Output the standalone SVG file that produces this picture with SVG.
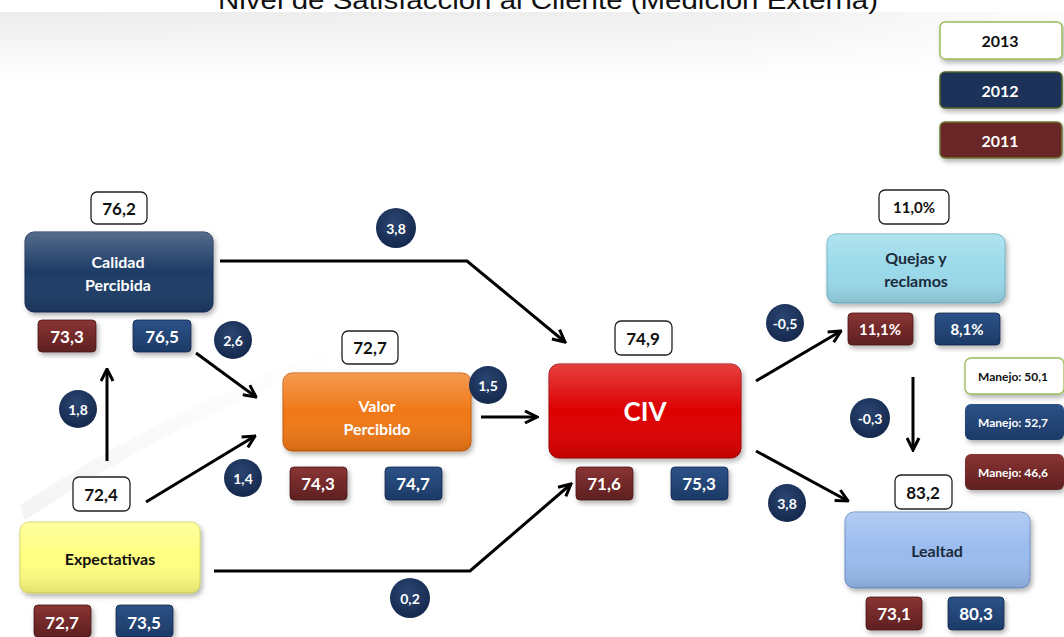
<svg xmlns="http://www.w3.org/2000/svg" width="1064" height="637" viewBox="0 0 1064 637">
<defs>
<style>
.t{font-family:Lato,"Open Sans","Liberation Sans",sans-serif;font-weight:bold;text-anchor:middle;dominant-baseline:central}
.w{fill:#fff}
.k{fill:#111}
.val{fill:#fff;stroke:#222;stroke-width:1.3}
.red{fill:url(#gRed);stroke:#4a1616;stroke-width:0.8}
.navy{fill:url(#gNavy);stroke:#12264a;stroke-width:0.8}
.circ{fill:url(#gCirc)}
.conn{fill:none;stroke:#000;stroke-width:3;marker-end:url(#arr)}
</style>
<linearGradient id="gRed" x1="0" y1="0" x2="0" y2="1"><stop offset="0" stop-color="#8a3434"/><stop offset="1" stop-color="#5e2020"/></linearGradient>
<linearGradient id="gNavy" x1="0" y1="0" x2="0" y2="1"><stop offset="0" stop-color="#2d5288"/><stop offset="1" stop-color="#1c3a66"/></linearGradient>
<radialGradient id="gCirc" cx="0.45" cy="0.35" r="0.7"><stop offset="0" stop-color="#2a4672"/><stop offset="1" stop-color="#14264a"/></radialGradient>
<linearGradient id="gTop" x1="0" y1="0" x2="0" y2="1"><stop offset="0" stop-color="#ececec"/><stop offset="1" stop-color="#ffffff"/></linearGradient>
<linearGradient id="gTopH" x1="0" y1="0" x2="1" y2="0"><stop offset="0" stop-color="#fff" stop-opacity="0"/><stop offset="0.7" stop-color="#fff" stop-opacity="0.2"/><stop offset="1" stop-color="#fff" stop-opacity="0.9"/></linearGradient>
<linearGradient id="gSw" x1="0" y1="1" x2="1" y2="0"><stop offset="0" stop-color="#ececec"/><stop offset="1" stop-color="#f8f8f8" stop-opacity="0.3"/></linearGradient>
<linearGradient id="gSheen" x1="0" y1="0" x2="0" y2="1"><stop offset="0" stop-color="#fff" stop-opacity="0.25"/><stop offset="0.5" stop-color="#fff" stop-opacity="0"/><stop offset="1" stop-color="#000" stop-opacity="0.12"/></linearGradient>
<filter id="sh" x="-10%" y="-10%" width="125%" height="130%"><feDropShadow dx="2" dy="3" stdDeviation="2.5" flood-color="#000" flood-opacity="0.3"/></filter>
<marker id="arr" viewBox="0 0 10 10" refX="9" refY="5" markerWidth="5" markerHeight="5" orient="auto" markerUnits="strokeWidth"><path d="M1,1 L9,5 L1,9" fill="none" stroke="#000" stroke-width="2"/></marker>
</defs>
<rect width="1064" height="637" fill="#fff"/>
<rect x="0" y="12" width="1064" height="66" fill="url(#gTop)"/>
<rect x="0" y="12" width="1064" height="66" fill="url(#gTopH)"/>
<path d="M20,505 C120,440 230,385 330,350 L322,366 C230,400 130,452 25,520 Z" fill="url(#gSw)" opacity="0.6"/>
<text x="548" y="9" font-family="'Liberation Sans',Arial,sans-serif" font-size="26" fill="#111" text-anchor="middle" textLength="660" lengthAdjust="spacingAndGlyphs">Nivel de Satisfacción  al Cliente (Medición Externa)</text>

<g id="connectors">
<path class="conn" d="M220,261 L467,261 L565,342"/>
<path class="conn" d="M196,353 L256,397"/>
<path class="conn" d="M107,461 L107,369"/>
<path class="conn" d="M146,502 L255,436"/>
<path class="conn" d="M481,417 L537,417"/>
<path class="conn" d="M214,571 L470,571 L571,484"/>
<path class="conn" d="M756,381 L841,331"/>
<path class="conn" d="M913,377 L913,450"/>
<path class="conn" d="M756,451 L848,501"/>
</g>

<g id="legend-2013"><rect x="940" y="22" width="122" height="37" rx="5" fill="#fff" stroke="#9bbb59" stroke-width="1.5" filter="url(#sh)"/><text class="t k" x="1000" y="40" font-size="16">2013</text></g>
<g id="legend-2012"><rect x="940" y="72" width="122" height="36" rx="5" fill="#1b3358" stroke="#4f6228" stroke-width="1.5" filter="url(#sh)"/><text class="t w" x="1000" y="90" font-size="16">2012</text></g>
<g id="legend-2011"><rect x="940" y="122" width="122" height="36" rx="5" fill="#6b2828" stroke="#6b7a30" stroke-width="1.5" filter="url(#sh)"/><text class="t w" x="1000" y="140" font-size="16">2011</text></g>

<g id="calidad">
<rect x="25" y="232" width="188" height="80" rx="9" fill="#1e3a66" stroke="#142a4e" filter="url(#sh)"/>
<rect x="25" y="232" width="188" height="80" rx="9" fill="url(#gSheen)"/>
<text class="t w" x="118" y="261" font-size="16">Calidad</text>
<text class="t w" x="118" y="284" font-size="16">Percibida</text>
<rect class="val" x="91" y="192" width="56" height="32" rx="6"/><text class="t k" x="119" y="208" font-size="17">76,2</text>
<rect class="red" x="38" y="320" width="58" height="32" rx="4" filter="url(#sh)"/><text class="t w" x="67" y="336" font-size="17">73,3</text>
<rect class="navy" x="133" y="320" width="58" height="32" rx="4" filter="url(#sh)"/><text class="t w" x="162" y="336" font-size="17">76,5</text>
</g>

<g id="valor">
<rect x="283" y="373" width="188" height="78" rx="9" fill="#f07818" stroke="#c85a08" filter="url(#sh)"/>
<rect x="283" y="373" width="188" height="78" rx="9" fill="url(#gSheen)"/>
<text class="t w" x="377" y="405" font-size="16">Valor</text>
<text class="t w" x="377" y="428" font-size="16">Percibido</text>
<rect class="val" x="342" y="331" width="56" height="33" rx="6"/><text class="t k" x="370" y="347" font-size="17">72,7</text>
<rect class="red" x="290" y="467" width="57" height="33" rx="4" filter="url(#sh)"/><text class="t w" x="318" y="483" font-size="17">74,3</text>
<rect class="navy" x="385" y="467" width="57" height="33" rx="4" filter="url(#sh)"/><text class="t w" x="413" y="483" font-size="17">74,7</text>
</g>

<g id="civ">
<rect x="549" y="364" width="192" height="94" rx="10" fill="#dd0606" stroke="#a00000" filter="url(#sh)"/>
<rect x="549" y="364" width="192" height="94" rx="10" fill="url(#gSheen)"/>
<text class="t w" x="645" y="411" font-size="26">CIV</text>
<rect class="val" x="615" y="321" width="57" height="34" rx="6"/><text class="t k" x="643" y="338" font-size="17">74,9</text>
<rect class="red" x="576" y="467" width="57" height="33" rx="4" filter="url(#sh)"/><text class="t w" x="604" y="483" font-size="17">71,6</text>
<rect class="navy" x="671" y="467" width="57" height="33" rx="4" filter="url(#sh)"/><text class="t w" x="699" y="483" font-size="17">75,3</text>
</g>

<g id="expectativas">
<rect x="20" y="522" width="180" height="71" rx="9" fill="#ffff80" stroke="#d8d860" filter="url(#sh)"/>
<rect x="20" y="522" width="180" height="71" rx="9" fill="url(#gSheen)"/>
<text class="t k" x="110" y="558" font-size="16">Expectativas</text>
<rect class="val" x="73" y="477" width="57" height="34" rx="6"/><text class="t k" x="101" y="494" font-size="17">72,4</text>
<rect class="red" x="34" y="605" width="57" height="32" rx="4" filter="url(#sh)"/><text class="t w" x="62" y="622" font-size="17">72,7</text>
<rect class="navy" x="116" y="605" width="57" height="32" rx="4" filter="url(#sh)"/><text class="t w" x="144" y="622" font-size="17">73,5</text>
</g>

<g id="quejas">
<rect x="827" y="234" width="178" height="69" rx="9" fill="#99d9ea" stroke="#6ab0c4" filter="url(#sh)"/>
<rect x="827" y="234" width="178" height="69" rx="9" fill="url(#gSheen)"/>
<text class="t" x="916" y="257" font-size="16" fill="#1a2a3a">Quejas y</text>
<text class="t" x="916" y="280" font-size="16" fill="#1a2a3a">reclamos</text>
<rect class="val" x="879" y="190" width="70" height="34" rx="6"/><text class="t k" x="914" y="207" font-size="15">11,0%</text>
<rect class="red" x="848" y="313" width="65" height="32" rx="4" filter="url(#sh)"/><text class="t w" x="880" y="329" font-size="15">11,1%</text>
<rect class="navy" x="935" y="313" width="65" height="32" rx="4" filter="url(#sh)"/><text class="t w" x="967" y="329" font-size="15">8,1%</text>
</g>

<g id="manejo">
<rect x="965" y="358" width="99" height="36" rx="6" fill="#fff" stroke="#9bbb59" stroke-width="1.3" filter="url(#sh)"/><text class="t k" x="1013" y="376" font-size="12">Manejo: 50,1</text>
<rect x="965" y="404" width="99" height="36" rx="6" fill="url(#gNavy)" filter="url(#sh)"/><text class="t w" x="1013" y="422" font-size="12">Manejo: 52,7</text>
<rect x="965" y="454" width="99" height="36" rx="6" fill="url(#gRed)" filter="url(#sh)"/><text class="t w" x="1013" y="472" font-size="12">Manejo: 46,6</text>
</g>

<g id="lealtad">
<rect x="845" y="512" width="185" height="76" rx="9" fill="#99bbee" stroke="#6a8cc4" filter="url(#sh)"/>
<rect x="845" y="512" width="185" height="76" rx="9" fill="url(#gSheen)"/>
<text class="t" x="937" y="550" font-size="16" fill="#1a2a3a">Lealtad</text>
<rect class="val" x="895" y="475" width="57" height="34" rx="6"/><text class="t k" x="923" y="492" font-size="17">83,2</text>
<rect class="red" x="866" y="597" width="56" height="33" rx="4" filter="url(#sh)"/><text class="t w" x="894" y="613" font-size="17">73,1</text>
<rect class="navy" x="948" y="597" width="56" height="33" rx="4" filter="url(#sh)"/><text class="t w" x="976" y="613" font-size="17">80,3</text>
</g>

<g id="coef-3-8-top"><circle class="circ" cx="396" cy="228" r="20"/><text class="t w" x="396" y="228" font-size="14">3,8</text></g>
<g id="coef-2-6"><circle class="circ" cx="233" cy="340" r="19"/><text class="t w" x="233" y="340" font-size="14">2,6</text></g>
<g id="coef-1-8"><circle class="circ" cx="78" cy="409" r="19"/><text class="t w" x="78" y="409" font-size="14">1,8</text></g>
<g id="coef-1-5"><circle class="circ" cx="488" cy="385" r="19"/><text class="t w" x="488" y="385" font-size="14">1,5</text></g>
<g id="coef-1-4"><circle class="circ" cx="243" cy="478" r="19"/><text class="t w" x="243" y="478" font-size="14">1,4</text></g>
<g id="coef-0-2"><circle class="circ" cx="410" cy="598" r="20"/><text class="t w" x="410" y="598" font-size="14">0,2</text></g>
<g id="coef-m0-5"><circle class="circ" cx="785" cy="323" r="19"/><text class="t w" x="785" y="323" font-size="14">-0,5</text></g>
<g id="coef-m0-3"><circle class="circ" cx="870" cy="418" r="20"/><text class="t w" x="870" y="418" font-size="14">-0,3</text></g>
<g id="coef-3-8-right"><circle class="circ" cx="787" cy="503" r="19"/><text class="t w" x="787" y="503" font-size="14">3,8</text></g>
</svg>
